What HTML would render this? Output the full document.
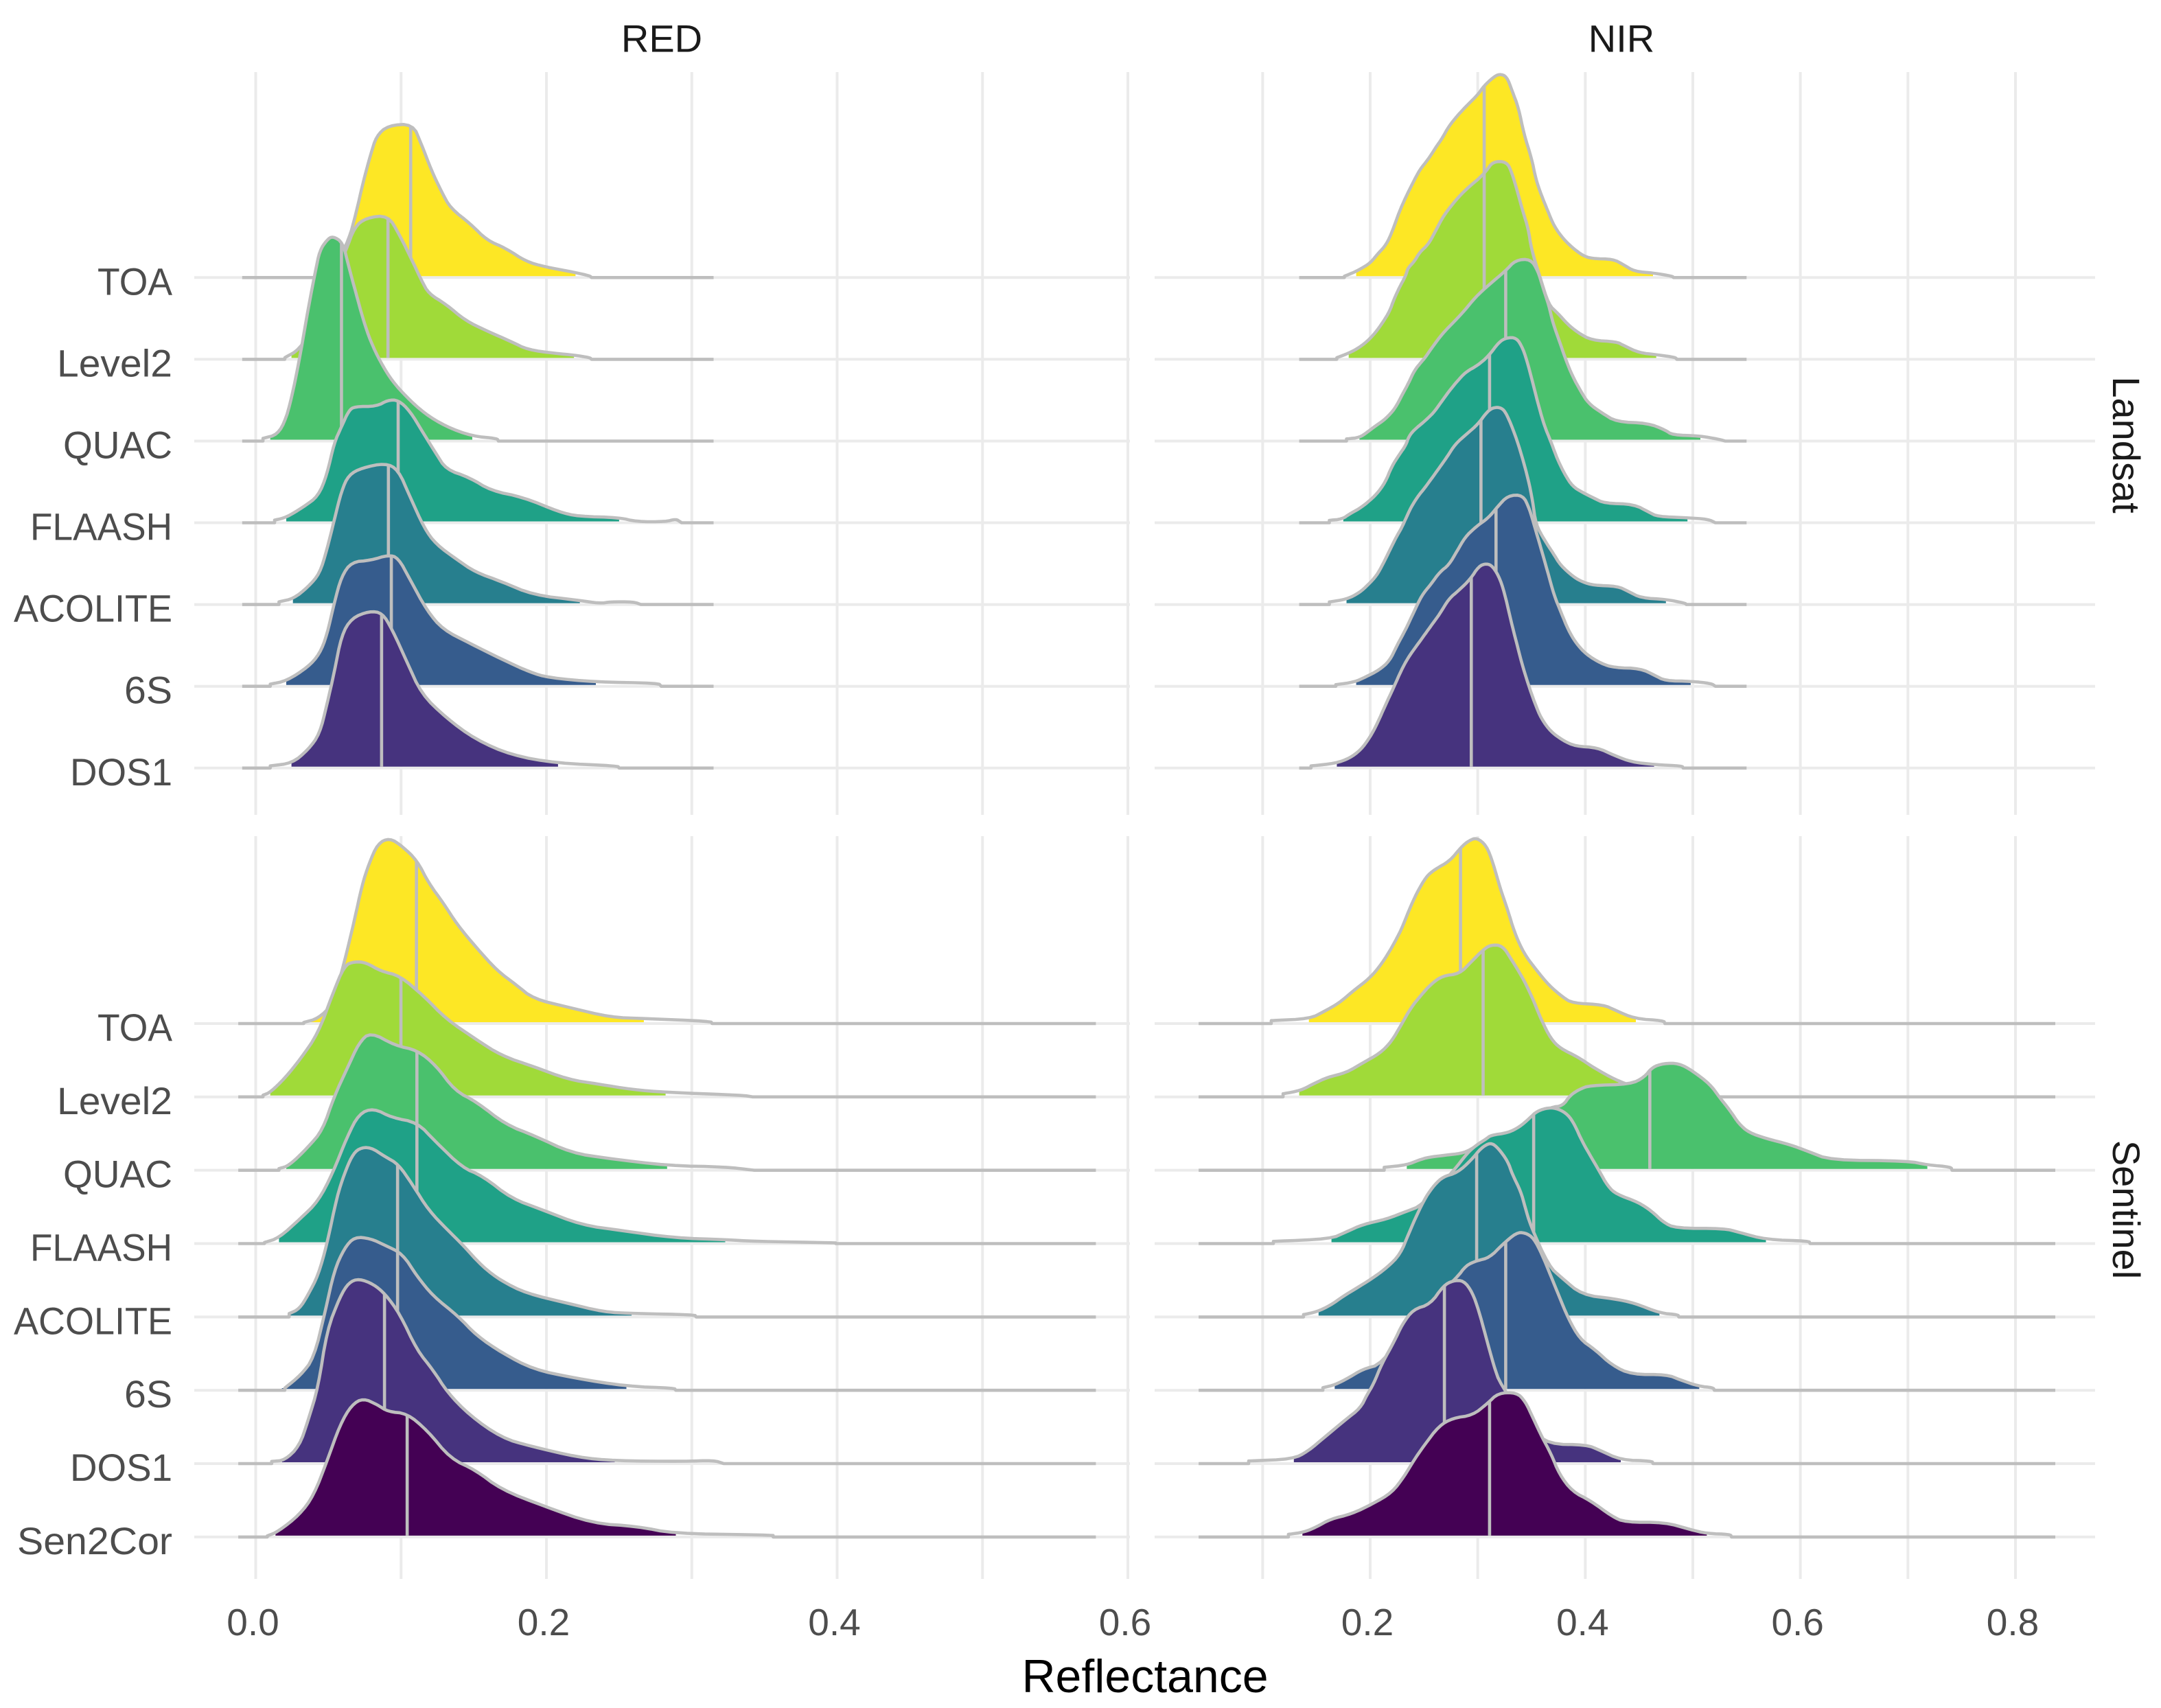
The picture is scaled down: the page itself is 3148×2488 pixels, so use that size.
<!DOCTYPE html>
<html lang="en">
<head>
<meta charset="utf-8">
<title>Reflectance ridgeline chart</title>
<style>
html,body{margin:0;padding:0;background:#fff;}
#chart{display:block;width:3148px;height:2488px;}
text{font-family:"Liberation Sans",Arial,sans-serif;}
</style>
</head>
<body>
<svg id="chart" xmlns="http://www.w3.org/2000/svg" width="3148" height="2488" viewBox="0 0 3148 2488"></svg>
<script>
// Categories and ticks
const bandNames = ['RED', 'NIR'];
const sensorNames = ['Landsat', 'Sentinel'];
const landsatMethods = ['TOA', 'Level2', 'QUAC', 'FLAASH', 'ACOLITE', '6S', 'DOS1'];
const sentinelMethods = ['TOA', 'Level2', 'QUAC', 'FLAASH', 'ACOLITE', '6S', 'DOS1', 'Sen2Cor'];
const redGridTicks = [0, 0.1, 0.2, 0.3, 0.4, 0.5, 0.6];
const nirGridTicks = [0.1, 0.2, 0.3, 0.4, 0.5, 0.6, 0.7, 0.8];
const redLabelTicks = [0, 0.2, 0.4, 0.6];
const nirLabelTicks = [0.2, 0.4, 0.6, 0.8];

// Medians, in method order
const redLandsatMedians = [0.1066, 0.091, 0.059, 0.098, 0.0913, 0.0933, 0.0866];
const nirLandsatMedians = [0.306, 0.306, 0.326, 0.311, 0.303, 0.317, 0.294];
const redSentinelMedians = [0.1106, 0.0999, 0.1109, 0.1109, 0.0976, 0.0976, 0.0886, 0.1042];
const nirSentinelMedians = [0.284, 0.305, 0.46, 0.352, 0.299, 0.326, 0.269, 0.311];

// Density range and filled range, in method order
const redLandsatRange = [-0.0093, 0.315];
const nirLandsatRange = [0.134, 0.55];
const redSentinelRange = [-0.012, 0.578];
const nirSentinelRange = [0.0405, 0.837];
const redLandsatFillFrom = [0.05, 0.0246, 0.01, 0.021, 0.0256, 0.021, 0.0246];
const redLandsatFillTo = [0.22, 0.219, 0.149, 0.25, 0.223, 0.234, 0.208];
const nirLandsatFillFrom = [0.187, 0.18, 0.19, 0.175, 0.178, 0.187, 0.169];
const nirLandsatFillTo = [0.463, 0.466, 0.507, 0.495, 0.475, 0.498, 0.464];
const redSentinelFillFrom = [0.038, 0.01, 0.021, 0.016, 0.023, 0.018, 0.018, 0.0136];
const redSentinelFillTo = [0.267, 0.282, 0.283, 0.323, 0.2586, 0.255, 0.247, 0.289];
const nirSentinelFillFrom = [0.143, 0.134, 0.234, 0.164, 0.152, 0.167, 0.129, 0.137];
const nirSentinelFillTo = [0.447, 0.431, 0.718, 0.568, 0.469, 0.506, 0.433, 0.513];

// RED / Landsat densities (x = reflectance, h = height in row units)
const rlToaX = [0.043,0.056,0.064,0.069,0.074,0.079,0.083,0.091,0.108,0.114,0.121,0.128,0.134,0.148,0.159,0.172,0.186,0.199,0.219,0.23,0.231];
const rlToaH = [0.01,0.196,0.457,0.783,1.175,1.501,1.73,1.86,1.88,1.632,1.305,1.044,0.849,0.653,0.457,0.359,0.196,0.131,0.065,0.02,0];
const rlLevel2X = [0.02,0.03,0.04,0.05,0.062,0.068,0.076,0.091,0.099,0.108,0.114,0.119,0.131,0.144,0.159,0.176,0.187,0.206,0.219,0.23,0.231];
const rlLevel2H = [0.02,0.118,0.411,0.868,1.325,1.619,1.73,1.762,1.521,1.195,0.966,0.803,0.672,0.477,0.346,0.215,0.118,0.072,0.052,0.02,0];
const rlQuacX = [0.005,0.015,0.021,0.026,0.031,0.036,0.041,0.044,0.049,0.053,0.06,0.064,0.069,0.074,0.079,0.086,0.094,0.104,0.116,0.131,0.149,0.166,0.167];
const rlQuacH = [0.033,0.078,0.274,0.633,1.09,1.612,2.069,2.33,2.461,2.507,2.428,2.134,1.808,1.482,1.221,0.96,0.731,0.535,0.339,0.176,0.059,0.033,0];
const rlFlaashX = [0.013,0.021,0.033,0.043,0.049,0.054,0.059,0.064,0.068,0.083,0.091,0.098,0.106,0.116,0.124,0.131,0.147,0.162,0.184,0.209,0.222,0.25,0.262,0.282,0.289,0.292,0.293];
const rlFlaashH = [0.033,0.065,0.196,0.326,0.587,0.979,1.175,1.371,1.423,1.423,1.501,1.501,1.371,1.077,0.849,0.653,0.555,0.392,0.313,0.131,0.078,0.065,0.013,0.013,0.046,0.013,0];
const rlAcoliteX = [0.016,0.026,0.036,0.044,0.049,0.054,0.059,0.064,0.073,0.089,0.098,0.106,0.116,0.124,0.139,0.151,0.169,0.191,0.222,0.237,0.244,0.26,0.265];
const rlAcoliteH = [0.033,0.072,0.215,0.379,0.672,1.031,1.39,1.586,1.671,1.73,1.651,1.325,0.933,0.738,0.542,0.398,0.281,0.117,0.052,0.013,0.033,0.033,0];
const rl6sX = [0.01,0.021,0.036,0.044,0.049,0.054,0.059,0.066,0.079,0.091,0.098,0.106,0.118,0.129,0.147,0.169,0.189,0.202,0.234,0.277,0.279];
const rl6sH = [0.026,0.065,0.235,0.398,0.627,1.018,1.345,1.521,1.54,1.606,1.573,1.312,0.92,0.692,0.529,0.333,0.17,0.104,0.052,0.039,0];
const rlDos1X = [0.01,0.025,0.036,0.044,0.049,0.054,0.059,0.066,0.078,0.087,0.094,0.104,0.114,0.131,0.151,0.176,0.207,0.249,0.25];
const rlDos1H = [0.026,0.059,0.222,0.418,0.777,1.168,1.625,1.834,1.919,1.899,1.691,1.299,0.907,0.614,0.352,0.157,0.059,0.026,0];

// NIR / Landsat densities
const nlToaX = [0.176,0.185,0.192,0.2,0.207,0.215,0.221,0.227,0.233,0.239,0.246,0.254,0.261,0.267,0.273,0.282,0.29,0.3,0.306,0.314,0.32,0.327,0.332,0.338,0.343,0.35,0.354,0.359,0.365,0.371,0.38,0.389,0.398,0.406,0.426,0.435,0.446,0.464,0.481,0.482];
const nlToaH = [0.016,0.064,0.113,0.177,0.289,0.402,0.579,0.804,0.981,1.141,1.318,1.447,1.592,1.704,1.849,1.994,2.106,2.235,2.347,2.444,2.492,2.46,2.283,2.074,1.752,1.463,1.206,1.013,0.82,0.627,0.466,0.354,0.267,0.232,0.225,0.161,0.074,0.055,0.016,0];
const nlLevel2X = [0.169,0.179,0.1875,0.197,0.205,0.212,0.218,0.222,0.227,0.233,0.235,0.241,0.246,0.254,0.26,0.267,0.273,0.282,0.292,0.301,0.308,0.314,0.327,0.332,0.337,0.342,0.347,0.35,0.358,0.366,0.374,0.384,0.393,0.406,0.429,0.436,0.45,0.467,0.484,0.485];
const nlLevel2H = [0.02,0.07,0.125,0.215,0.328,0.457,0.585,0.73,0.875,1.02,1.116,1.196,1.309,1.405,1.55,1.727,1.839,1.984,2.113,2.209,2.305,2.418,2.418,2.273,2.048,1.807,1.598,1.341,1.0,0.666,0.569,0.424,0.328,0.232,0.215,0.167,0.08,0.055,0.023,0];
const nlQuacX = [0.178,0.19,0.197,0.205,0.214,0.223,0.23,0.236,0.241,0.248,0.251,0.257,0.267,0.279,0.288,0.298,0.31,0.326,0.335,0.349,0.356,0.361,0.366,0.37,0.377,0.382,0.388,0.396,0.403,0.415,0.429,0.458,0.474,0.481,0.506,0.525,0.53];
const nlQuacH = [0.026,0.042,0.106,0.186,0.267,0.395,0.572,0.717,0.862,0.974,1.02,1.135,1.312,1.473,1.601,1.762,1.907,2.084,2.212,2.228,2.084,1.859,1.666,1.44,1.183,0.99,0.797,0.604,0.46,0.347,0.235,0.219,0.138,0.074,0.064,0.02,0];
const nlFlaashX = [0.162,0.174,0.181,0.19,0.198,0.206,0.214,0.22,0.227,0.233,0.236,0.241,0.25,0.259,0.266,0.273,0.281,0.289,0.3,0.31,0.32,0.327,0.336,0.342,0.347,0.352,0.357,0.362,0.368,0.372,0.375,0.381,0.388,0.398,0.408,0.418,0.445,0.46,0.467,0.495,0.514,0.521];
const nlFlaashH = [0.03,0.045,0.11,0.174,0.254,0.35,0.495,0.688,0.833,0.945,1.058,1.138,1.235,1.347,1.476,1.604,1.733,1.846,1.926,2.039,2.215,2.264,2.264,2.135,1.926,1.669,1.412,1.186,0.994,0.85,0.752,0.592,0.447,0.367,0.302,0.238,0.228,0.125,0.077,0.061,0.045,0];
const nlAcoliteX = [0.162,0.178,0.19,0.198,0.206,0.212,0.218,0.224,0.229,0.234,0.238,0.244,0.251,0.259,0.266,0.272,0.279,0.29,0.3,0.308,0.314,0.322,0.327,0.335,0.341,0.347,0.351,0.354,0.362,0.37,0.377,0.389,0.398,0.408,0.43,0.44,0.452,0.475,0.493,0.494];
const nlAcoliteH = [0.032,0.064,0.145,0.241,0.354,0.498,0.659,0.82,0.932,1.077,1.19,1.318,1.431,1.576,1.704,1.817,1.961,2.09,2.203,2.347,2.41,2.41,2.33,2.07,1.82,1.53,1.27,0.98,0.79,0.63,0.48,0.338,0.273,0.235,0.225,0.161,0.08,0.064,0.016,0];
const nl6sX = [0.168,0.185,0.196,0.208,0.218,0.225,0.233,0.241,0.248,0.256,0.265,0.273,0.281,0.288,0.298,0.31,0.318,0.328,0.342,0.348,0.353,0.358,0.365,0.371,0.378,0.384,0.391,0.401,0.415,0.427,0.451,0.465,0.474,0.499,0.517,0.521];
const nl6sH = [0.02,0.05,0.116,0.196,0.309,0.502,0.695,0.92,1.113,1.241,1.402,1.482,1.659,1.82,1.949,2.061,2.19,2.334,2.34,2.174,1.949,1.723,1.402,1.113,0.887,0.695,0.534,0.389,0.277,0.228,0.219,0.132,0.068,0.061,0.035,0];
const nlDos1X = [0.145,0.168,0.181,0.191,0.2,0.207,0.214,0.222,0.229,0.235,0.241,0.249,0.256,0.265,0.273,0.283,0.293,0.301,0.308,0.314,0.321,0.326,0.331,0.336,0.341,0.347,0.353,0.359,0.368,0.38,0.391,0.411,0.427,0.443,0.464,0.49,0.491];
const nlDos1H = [0.026,0.058,0.122,0.219,0.379,0.556,0.765,0.99,1.199,1.344,1.457,1.601,1.73,1.891,2.068,2.18,2.309,2.469,2.502,2.469,2.309,2.084,1.794,1.537,1.28,1.023,0.797,0.605,0.444,0.331,0.267,0.251,0.154,0.074,0.042,0.026,0];

// RED / Sentinel densities
const rsToaX = [0.033,0.043,0.053,0.061,0.068,0.073,0.078,0.084,0.092,0.101,0.111,0.119,0.129,0.139,0.152,0.166,0.179,0.191,0.215,0.244,0.267,0.313,0.314];
const rsToaH = [0.015,0.069,0.262,0.838,1.415,1.877,2.185,2.454,2.531,2.415,2.223,1.915,1.646,1.338,1.031,0.723,0.531,0.338,0.223,0.085,0.069,0.031,0];
const rsLevel2X = [0.005,0.01,0.02,0.031,0.043,0.053,0.061,0.068,0.076,0.086,0.099,0.116,0.131,0.151,0.169,0.192,0.215,0.235,0.259,0.282,0.335,0.342];
const rsLevel2H = [0.023,0.062,0.254,0.523,0.869,1.408,1.792,1.846,1.831,1.715,1.654,1.369,1.062,0.792,0.562,0.408,0.238,0.177,0.1,0.062,0.023,0];
const rsQuacX = [0.016,0.023,0.036,0.046,0.054,0.063,0.071,0.079,0.096,0.111,0.124,0.137,0.152,0.172,0.192,0.217,0.242,0.284,0.323,0.343];
const rsQuacH = [0.023,0.062,0.315,0.546,1.008,1.392,1.738,1.885,1.7,1.638,1.431,1.085,0.931,0.623,0.469,0.238,0.162,0.062,0.046,0];
const rsFlaashX = [0.006,0.016,0.031,0.043,0.053,0.063,0.071,0.081,0.094,0.111,0.124,0.142,0.156,0.176,0.197,0.224,0.252,0.288,0.323,0.343,0.399];
const rsFlaashH = [0.015,0.077,0.346,0.577,0.962,1.462,1.769,1.846,1.715,1.654,1.385,1.038,0.923,0.615,0.462,0.254,0.177,0.077,0.054,0.031,0.01];
const rsAcoliteX = [0.023,0.03,0.036,0.043,0.049,0.056,0.061,0.066,0.071,0.079,0.089,0.098,0.108,0.119,0.132,0.142,0.156,0.169,0.186,0.215,0.239,0.26,0.302,0.303];
const rsAcoliteH = [0.046,0.108,0.3,0.57,0.99,1.65,1.95,2.19,2.3,2.315,2.185,2.085,1.8,1.454,1.185,0.992,0.685,0.492,0.323,0.185,0.069,0.046,0.031,0];
const rs6sX = [0.02,0.031,0.04,0.048,0.054,0.061,0.068,0.079,0.089,0.101,0.111,0.122,0.139,0.152,0.169,0.191,0.219,0.255,0.288,0.289];
const rs6sH = [0.03,0.208,0.438,1.092,1.631,1.938,2.092,2.069,1.977,1.862,1.554,1.285,1.015,0.746,0.515,0.285,0.169,0.054,0.03,0];
const rsDos1X = [0.011,0.02,0.03,0.036,0.043,0.049,0.058,0.064,0.071,0.081,0.089,0.099,0.111,0.122,0.132,0.147,0.169,0.189,0.222,0.247,0.295,0.315,0.322];
const rsDos1H = [0.03,0.046,0.238,0.585,1.046,1.815,2.277,2.469,2.523,2.446,2.315,2.046,1.546,1.277,0.969,0.662,0.354,0.238,0.085,0.038,0.03,0.046,0];
const rsSen2corX = [0.008,0.015,0.03,0.04,0.049,0.058,0.066,0.074,0.084,0.091,0.104,0.118,0.134,0.151,0.169,0.199,0.232,0.262,0.288,0.344,0.356];
const rsSen2corH = [0.015,0.069,0.3,0.569,1.031,1.531,1.8,1.892,1.8,1.708,1.685,1.454,1.069,0.915,0.646,0.415,0.185,0.146,0.046,0.03,0.02];

// NIR / Sentinel densities
const nsToaX = [0.108,0.144,0.157,0.171,0.184,0.2,0.211,0.22,0.229,0.236,0.243,0.252,0.26,0.274,0.285,0.292,0.299,0.308,0.314,0.321,0.328,0.334,0.343,0.355,0.366,0.379,0.388,0.417,0.428,0.446,0.473,0.474];
const nsToaH = [0.04,0.066,0.164,0.279,0.443,0.624,0.821,1.034,1.28,1.543,1.773,2.003,2.101,2.216,2.413,2.495,2.534,2.429,2.2,1.838,1.543,1.248,0.952,0.722,0.525,0.361,0.279,0.256,0.181,0.066,0.04,0];
const nsLevel2X = [0.119,0.135,0.148,0.16,0.178,0.193,0.209,0.22,0.229,0.238,0.247,0.256,0.267,0.283,0.294,0.305,0.312,0.323,0.332,0.341,0.35,0.359,0.368,0.377,0.393,0.408,0.428,0.446,0.469,0.478];
const nsLevel2H = [0.043,0.085,0.184,0.266,0.332,0.463,0.594,0.758,0.988,1.218,1.382,1.53,1.651,1.678,1.842,2.006,2.072,2.065,1.858,1.645,1.382,1.054,0.791,0.66,0.545,0.397,0.233,0.135,0.05,0];
const nsQuacX = [0.213,0.234,0.245,0.254,0.269,0.285,0.294,0.305,0.312,0.328,0.343,0.355,0.368,0.379,0.386,0.395,0.404,0.442,0.455,0.462,0.473,0.487,0.5,0.516,0.525,0.534,0.543,0.552,0.568,0.59,0.608,0.628,0.7,0.718,0.74,0.741];
const nsQuacH = [0.04,0.072,0.138,0.177,0.204,0.23,0.286,0.4,0.466,0.483,0.598,0.745,0.86,0.877,1.024,1.106,1.156,1.172,1.27,1.402,1.458,1.458,1.353,1.172,0.991,0.827,0.63,0.516,0.433,0.351,0.253,0.138,0.128,0.072,0.046,0];
const nsFlaashX = [0.11,0.163,0.177,0.193,0.215,0.234,0.248,0.278,0.29,0.299,0.308,0.312,0.328,0.339,0.348,0.355,0.366,0.375,0.384,0.39,0.397,0.406,0.413,0.421,0.429,0.449,0.462,0.472,0.484,0.529,0.543,0.568,0.608,0.609];
const nsFlaashH = [0.03,0.064,0.154,0.261,0.333,0.441,0.519,1.0,1.231,1.346,1.428,1.477,1.51,1.592,1.707,1.806,1.855,1.838,1.756,1.625,1.395,1.165,0.99,0.781,0.673,0.566,0.441,0.297,0.208,0.208,0.154,0.054,0.036,0];
const nsAcoliteX = [0.138,0.15,0.163,0.175,0.187,0.201,0.216,0.228,0.236,0.244,0.252,0.26,0.268,0.281,0.294,0.303,0.312,0.319,0.328,0.332,0.34,0.344,0.349,0.366,0.378,0.397,0.427,0.445,0.47,0.486,0.487];
const nsAcoliteH = [0.032,0.068,0.158,0.283,0.39,0.516,0.677,0.856,1.143,1.411,1.644,1.805,1.913,1.966,2.139,2.303,2.38,2.303,2.122,1.95,1.713,1.5,1.25,0.695,0.534,0.301,0.247,0.193,0.05,0.032,0];
const ns6sX = [0.156,0.167,0.181,0.193,0.211,0.246,0.281,0.289,0.299,0.311,0.323,0.336,0.344,0.352,0.36,0.368,0.376,0.384,0.395,0.409,0.425,0.443,0.476,0.488,0.506,0.519,0.52];
const ns6sH = [0.036,0.072,0.179,0.287,0.358,1.057,1.54,1.701,1.766,1.809,1.988,2.149,2.149,2.077,1.845,1.558,1.271,0.985,0.698,0.555,0.34,0.215,0.215,0.143,0.054,0.036,0];
const nsDos1X = [0.087,0.128,0.142,0.158,0.177,0.191,0.197,0.203,0.211,0.222,0.23,0.24,0.256,0.268,0.277,0.287,0.295,0.301,0.307,0.315,0.321,0.35,0.366,0.401,0.413,0.433,0.462,0.463];
const nsDos1H = [0.036,0.061,0.168,0.365,0.598,0.759,0.938,1.082,1.368,1.655,1.905,2.102,2.174,2.425,2.496,2.496,2.335,2.084,1.762,1.332,1.082,0.47,0.265,0.258,0.186,0.05,0.036,0];
const nsSen2corX = [0.124,0.138,0.15,0.163,0.183,0.203,0.22,0.232,0.24,0.25,0.264,0.277,0.295,0.309,0.319,0.336,0.344,0.352,0.36,0.368,0.376,0.388,0.405,0.425,0.437,0.474,0.498,0.513,0.535,0.536];
const nsSen2corH = [0.036,0.064,0.136,0.244,0.315,0.458,0.602,0.834,1.032,1.246,1.515,1.622,1.658,1.819,1.963,1.97,1.855,1.605,1.354,1.139,0.852,0.62,0.494,0.279,0.201,0.201,0.1,0.047,0.036,0];

// Fill colours (viridis) by method
const methodFill = {TOA:'#FDE725', Level2:'#A0DA39', QUAC:'#4AC16D', FLAASH:'#1FA187', ACOLITE:'#277F8E', '6S':'#365C8D', DOS1:'#46337E', Sen2Cor:'#440154'};
// Rendered width of each row label
const rowLabelLength = {TOA:109, Level2:168, QUAC:159, FLAASH:207, ACOLITE:231, '6S':70, DOS1:149, Sen2Cor:226};

// Axis functions
function xRed(v){ return 372.5 + v * 2117.5; }
function xNir(v){ return 1996 + (v - 0.2) * 1566.7; }
function rowLandsat(i){ return 404.3 + i * 119.08; }
function rowSentinel(i){ return 1491 + i * 106.84; }

const panels = [
  {key:'red-landsat', xs:xRed, row:rowLandsat, step:119.08, methods:landsatMethods, ticks:redGridTicks, left:283, right:1646, top:105, bottom:1187,
   range:redLandsatRange, med:redLandsatMedians, from:redLandsatFillFrom, to:redLandsatFillTo,
   curves:[[rlToaX,rlToaH],[rlLevel2X,rlLevel2H],[rlQuacX,rlQuacH],[rlFlaashX,rlFlaashH],[rlAcoliteX,rlAcoliteH],[rl6sX,rl6sH],[rlDos1X,rlDos1H]]},
  {key:'nir-landsat', xs:xNir, row:rowLandsat, step:119.08, methods:landsatMethods, ticks:nirGridTicks, left:1682, right:3052, top:105, bottom:1187,
   range:nirLandsatRange, med:nirLandsatMedians, from:nirLandsatFillFrom, to:nirLandsatFillTo,
   curves:[[nlToaX,nlToaH],[nlLevel2X,nlLevel2H],[nlQuacX,nlQuacH],[nlFlaashX,nlFlaashH],[nlAcoliteX,nlAcoliteH],[nl6sX,nl6sH],[nlDos1X,nlDos1H]]},
  {key:'red-sentinel', xs:xRed, row:rowSentinel, step:106.84, methods:sentinelMethods, ticks:redGridTicks, left:283, right:1646, top:1218, bottom:2300,
   range:redSentinelRange, med:redSentinelMedians, from:redSentinelFillFrom, to:redSentinelFillTo,
   curves:[[rsToaX,rsToaH],[rsLevel2X,rsLevel2H],[rsQuacX,rsQuacH],[rsFlaashX,rsFlaashH],[rsAcoliteX,rsAcoliteH],[rs6sX,rs6sH],[rsDos1X,rsDos1H],[rsSen2corX,rsSen2corH]]},
  {key:'nir-sentinel', xs:xNir, row:rowSentinel, step:106.84, methods:sentinelMethods, ticks:nirGridTicks, left:1682, right:3052, top:1218, bottom:2300,
   range:nirSentinelRange, med:nirSentinelMedians, from:nirSentinelFillFrom, to:nirSentinelFillTo,
   curves:[[nsToaX,nsToaH],[nsLevel2X,nsLevel2H],[nsQuacX,nsQuacH],[nsFlaashX,nsFlaashH],[nsAcoliteX,nsAcoliteH],[ns6sX,ns6sH],[nsDos1X,nsDos1H],[nsSen2corX,nsSen2corH]]}
];

const SVG_NS = 'http://www.w3.org/2000/svg';
const svg = document.getElementById('chart');
function make(tag, parent){
  const el = document.createElementNS(SVG_NS, tag);
  parent.appendChild(el);
  return el;
}
function kebab(s){ return String(s).toLowerCase().replace(/[^a-z0-9]+/g, '-'); }
function interp(xs, hs, x){
  if (x <= xs[0]) return hs[0];
  for (let i = 1; i < xs.length; i++) {
    if (x <= xs[i]) {
      const t = (x - xs[i-1]) / (xs[i] - xs[i-1]);
      return hs[i-1] + t * (hs[i] - hs[i-1]);
    }
  }
  return hs[hs.length-1];
}
// Corner-cutting pass: rounds the sampled vertices without overshooting them
function smooth(xs, hs, passes){
  let ax = xs.slice(), ah = hs.slice();
  for (let p = 0; p < passes; p++) {
    const nx = [ax[0]], nh = [ah[0]];
    for (let i = 0; i < ax.length - 1; i++) {
      nx.push(0.75 * ax[i] + 0.25 * ax[i+1], 0.25 * ax[i] + 0.75 * ax[i+1]);
      nh.push(0.75 * ah[i] + 0.25 * ah[i+1], 0.25 * ah[i] + 0.75 * ah[i+1]);
    }
    nx.push(ax[ax.length-1]);
    nh.push(ah[ah.length-1]);
    ax = nx; ah = nh;
  }
  return [ax, ah];
}
function label(parent, str, x, y, size, fill, anchor, name){
  const t = make('text', parent);
  
  
  t.setAttribute('x', x);
  t.setAttribute('y', y);
  t.setAttribute('font-size', size);
  t.setAttribute('fill', fill);
  t.setAttribute('text-anchor', anchor);
  t.textContent = str;
  return t;
}

const GRID = '#ebebeb';
const LINE = '#bebebe';
const STROKE = 4.6;

panels.forEach(function(p){
  const g = make('g', svg);
  
  

  // vertical gridlines
  p.ticks.forEach(function(t){
    const l = make('line', g);
    
    
    l.setAttribute('x1', p.xs(t));
    l.setAttribute('x2', p.xs(t));
    l.setAttribute('y1', p.top);
    l.setAttribute('y2', p.bottom);
    l.setAttribute('stroke', GRID);
    l.setAttribute('stroke-width', 4);
  });
  // horizontal gridlines
  p.methods.forEach(function(m, i){
    const l = make('line', g);
    
    
    l.setAttribute('x1', p.left);
    l.setAttribute('x2', p.right);
    l.setAttribute('y1', p.row(i));
    l.setAttribute('y2', p.row(i));
    l.setAttribute('stroke', GRID);
    l.setAttribute('stroke-width', 4);
  });

  // ridges, top row first so lower rows overlap
  p.methods.forEach(function(m, i){
    const curve = smooth(p.curves[i][0], p.curves[i][1], 2);
    const xs = curve[0], hs = curve[1];
    const base = p.row(i);
    const yOf = function(h){ return base - h * p.step; };
    const rg = make('g', g);
    
    

    // fill
    const a = p.from[i], b = p.to[i];
    let fillPts = [[p.xs(a), base - 2], [p.xs(a), yOf(interp(xs, hs, a))]];
    xs.forEach(function(x, k){
      if (x > a && x < b) fillPts.push([p.xs(x), yOf(hs[k])]);
    });
    fillPts.push([p.xs(b), yOf(interp(xs, hs, b))]);
    fillPts.push([p.xs(b), base - 2]);
    const poly = make('polygon', rg);
    
    
    poly.setAttribute('points', fillPts.map(function(q){ return q[0].toFixed(1) + ',' + q[1].toFixed(1); }).join(' '));
    poly.setAttribute('fill', methodFill[m]);

    // median line
    const med = p.med[i];
    const ml = make('line', rg);
    
    
    ml.setAttribute('x1', p.xs(med));
    ml.setAttribute('x2', p.xs(med));
    ml.setAttribute('y1', base - 2);
    ml.setAttribute('y2', yOf(interp(xs, hs, med)));
    ml.setAttribute('stroke', LINE);
    ml.setAttribute('stroke-width', STROKE);

    // outline across full density range
    let linePts = [[p.xs(p.range[0]), base], [p.xs(xs[0]), base]];
    xs.forEach(function(x, k){ linePts.push([p.xs(x), yOf(hs[k])]); });
    linePts.push([p.xs(xs[xs.length-1]), base]);
    linePts.push([p.xs(p.range[1]), base]);
    const pl = make('polyline', rg);
    
    
    pl.setAttribute('points', linePts.map(function(q){ return q[0].toFixed(1) + ',' + q[1].toFixed(1); }).join(' '));
    pl.setAttribute('fill', 'none');
    pl.setAttribute('stroke', LINE);
    pl.setAttribute('stroke-width', STROKE);
    pl.setAttribute('stroke-linejoin', 'round');
  });
});

// y-axis labels
landsatMethods.forEach(function(m, i){
  const t = label(svg, m, 251, rowLandsat(i) + 25, 56, '#4d4d4d', 'end', 'y-label-landsat-' + kebab(m));
  t.setAttribute('textLength', rowLabelLength[m]);
  t.setAttribute('lengthAdjust', 'spacingAndGlyphs');
});
sentinelMethods.forEach(function(m, i){
  const t = label(svg, m, 251, rowSentinel(i) + 25, 56, '#4d4d4d', 'end', 'y-label-sentinel-' + kebab(m));
  t.setAttribute('textLength', rowLabelLength[m]);
  t.setAttribute('lengthAdjust', 'spacingAndGlyphs');
});
// x-axis labels
redLabelTicks.forEach(function(t){
  label(svg, t.toFixed(1), xRed(t) - 4, 2382, 55, '#4d4d4d', 'middle', 'x-label-red-' + kebab(t.toFixed(1)));
});
nirLabelTicks.forEach(function(t){
  label(svg, t.toFixed(1), xNir(t) - 4, 2382, 55, '#4d4d4d', 'middle', 'x-label-nir-' + kebab(t.toFixed(1)));
});
// strips and titles
label(svg, bandNames[0], 964, 75.5, 56, '#1a1a1a', 'middle', 'strip-title-red');
label(svg, bandNames[1], 2362, 75.5, 56, '#1a1a1a', 'middle', 'strip-title-nir');
label(svg, 'Reflectance', 1668, 2465, 68, '#000000', 'middle', 'x-axis-title');
const stripA = label(svg, sensorNames[0], 0, 0, 56, '#1a1a1a', 'middle', 'strip-title-landsat');
stripA.setAttribute('transform', 'translate(3078,648) rotate(90)');
const stripB = label(svg, sensorNames[1], 0, 0, 56, '#1a1a1a', 'middle', 'strip-title-sentinel');
stripB.setAttribute('transform', 'translate(3078,1762) rotate(90)');
</script>
</body>
</html>
